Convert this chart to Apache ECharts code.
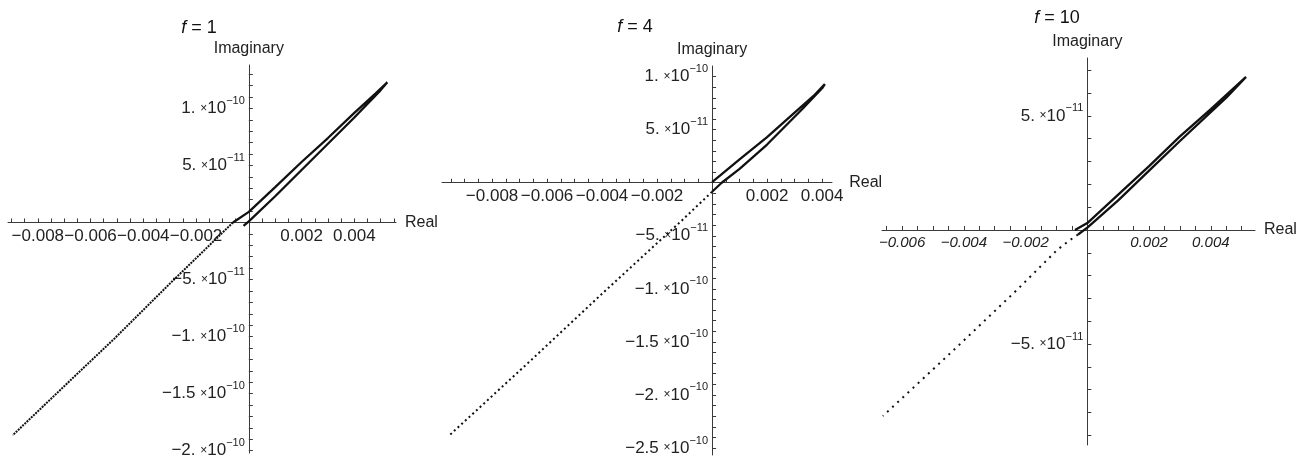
<!DOCTYPE html>
<html>
<head>
<meta charset="utf-8">
<script src="https://cdn.jsdelivr.net/npm/echarts@6/dist/echarts.min.js"></script>
<style>
html, body { margin: 0; padding: 0; background: #fff; }
#chart { width: 1314px; height: 459px; }
</style>
</head>
<body>
<div id="chart"></div>
<script>
// f = 1 : loop (solid) and tail going down-left (dotted)
var f1Loop = [[-0.0006, 0.0], [0.0, 0.93e-11], [0.001, 3.1e-11], [0.002, 5.3e-11], [0.003, 7.4e-11],
  [0.004, 9.6e-11], [0.0048, 1.13e-10], [0.00525, 1.228e-10], [0.0050, 1.16e-10], [0.004, 9.2e-11],
  [0.003, 6.9e-11], [0.002, 4.6e-11], [0.001, 2.3e-11], [0.0, 0.1e-11], [-0.0002, -0.3e-11]];
var f1Tail = [[-0.0006, 0.0], [-0.00289, -5.12e-11], [-0.00509, -1.016e-10], [-0.0063, -1.281e-10], [-0.00895, -1.864e-10]];

// f = 4
var f4Loop = [[0.0, 0.05e-11], [0.001, 2.2e-11], [0.002, 4.3e-11], [0.003, 6.6e-11], [0.0037, 8.2e-11],
  [0.0041, 9.3e-11], [0.0040, 8.9e-11], [0.0033, 7.0e-11], [0.002, 3.6e-11], [0.001, 1.3e-11],
  [0.00035, 0.0], [0.0, -0.85e-11]];
var f4Tail = [[0.0, -0.85e-11], [-0.00108, -3.51e-11], [-0.00395, -1.034e-10], [-0.00661, -1.679e-10], [-0.00959, -2.39e-10]];

// f = 10
var f10Loop = [[-0.0004, 0.0], [0.0, 0.3e-11], [0.001, 1.55e-11], [0.002, 2.8e-11], [0.003, 4.1e-11],
  [0.004, 5.3e-11], [0.00514, 6.71e-11], [0.0045, 5.8e-11], [0.003, 3.9e-11], [0.002, 2.6e-11],
  [0.001, 1.3e-11], [0.0, 0.1e-11], [-0.0003, -0.2e-11]];
var f10Tail = [[-0.0003, -0.2e-11], [-0.00056, -0.44e-11], [-0.00098, -0.88e-11], [-0.00228, -2.63e-11], [-0.00422, -5.13e-11], [-0.00662, -8.16e-11]];

// tick labels
var xLabels1 = [-0.008, -0.006, -0.004, -0.002, 0.002, 0.004];
var yLabels1 = [-2e-10, -1.5e-10, -1e-10, -5e-11, 5e-11, 1e-10];
var xLabels4 = [-0.008, -0.006, -0.004, -0.002, 0.002, 0.004];
var yLabels4 = [-2.5e-10, -2e-10, -1.5e-10, -1e-10, -5e-11, 5e-11, 1e-10];
var xLabels10 = [-0.006, -0.004, -0.002, 0.002, 0.004];
var yLabels10 = [-5e-11, 5e-11];

var FONT = '"Liberation Sans", Arial, sans-serif';
var AXIS = '#3a3a3a';

// panel boxes + axis ranges
var boxes = [
  { left: 8, top: 65, width: 388, height: 388, xMin: -0.00913, xMax: 0.00558, yMin: -2.02e-10, yMax: 1.38e-10 },
  { left: 442, top: 66, width: 390, height: 389, xMin: -0.00982, xMax: 0.00436, yMin: -2.566e-10, yMax: 1.1e-10 },
  { left: 882, top: 58, width: 373, height: 387, xMin: -0.00665, xMax: 0.00543, yMin: -9.43e-11, yMax: 7.54e-11 }
];

function steps(from, to, step) {
  var out = [];
  for (var k = Math.round(from / step); k <= Math.round(to / step); k++) out.push(k * step);
  return out;
}
function xFmt(v) {
  return (v < 0 ? '\u2212' : '') + Math.abs(v).toFixed(3);
}
function yFmt(v) {
  var e = Math.floor(Math.log10(Math.abs(v)) + 1e-9);
  var m = Math.round(v / Math.pow(10, e) * 10) / 10;
  var ms = (Math.abs(m) % 1 === 0 ? Math.abs(m) + '.' : String(Math.abs(m)));
  if (m < 0) ms = '\u2212' + ms;
  return '{m|' + ms + ' }{x|\u00d7}{m|10}{e|\u2212' + (-e) + '}';
}
// labels stay at the grid edge, so pull them to the zero line with the margin
function zeroX(b) { return b.left + (0 - b.xMin) / (b.xMax - b.xMin) * b.width; }
function zeroY(b) { return b.top + (b.yMax - 0) / (b.yMax - b.yMin) * b.height; }

function xAxisOf(idx, labels, ticks, italic, fs) {
  var b = boxes[idx];
  return {
    type: 'value', gridIndex: idx, min: b.xMin, max: b.xMax,
    name: 'Real', nameLocation: 'end', nameGap: 9,
    nameTextStyle: { fontFamily: FONT, fontSize: 16, color: '#222' },
    axisLine: { onZero: true, lineStyle: { color: AXIS, width: 1 } },
    axisTick: { inside: true, length: 4, customValues: ticks, lineStyle: { color: AXIS } },
    axisLabel: {
      customValues: labels, formatter: xFmt, hideOverlap: false,
      margin: zeroY(b) + 5 - (b.top + b.height),
      fontFamily: FONT, fontSize: fs, color: '#222', fontStyle: italic ? 'italic' : 'normal'
    },
    splitLine: { show: false }
  };
}
function yAxisOf(idx, labels, ticks) {
  var b = boxes[idx];
  return {
    type: 'value', gridIndex: idx, min: b.yMin, max: b.yMax,
    name: 'Imaginary', nameLocation: 'end', nameGap: 8,
    nameTextStyle: { fontFamily: FONT, fontSize: 16, color: '#222' },
    axisLine: { onZero: true, lineStyle: { color: AXIS, width: 1 } },
    axisTick: { inside: true, length: 4, customValues: ticks, lineStyle: { color: AXIS } },
    axisLabel: {
      customValues: labels, formatter: yFmt, hideOverlap: false,
      margin: b.left - zeroX(b) + 4,
      rich: {
        m: { fontFamily: FONT, fontSize: 17, color: '#222', lineHeight: 26 },
        x: { fontFamily: FONT, fontSize: 12, color: '#222', lineHeight: 26 },
        e: { fontFamily: FONT, fontSize: 11, color: '#222', verticalAlign: 'top', lineHeight: 14 }
      }
    },
    splitLine: { show: false }
  };
}
function loopSeries(idx, data) {
  return {
    type: 'line', xAxisIndex: idx, yAxisIndex: idx, data: data, showSymbol: false,
    lineStyle: { color: '#111', width: 2.3 }, silent: true
  };
}
function tailSeries(idx, data, dash) {
  return {
    type: 'line', xAxisIndex: idx, yAxisIndex: idx, data: data, showSymbol: false,
    lineStyle: { color: '#111', width: 2, type: dash }, silent: true
  };
}
function titleText(x, y, num) {
  return {
    type: 'text', x: x, y: y,
    style: {
      text: '{i|f} = ' + num, align: 'center', textAlign: 'center', verticalAlign: 'middle', textVerticalAlign: 'middle',
      font: '18px ' + FONT, fill: '#111',
      rich: { i: { fontFamily: FONT, fontSize: 18, fontStyle: 'italic', fill: '#111', color: '#111' } }
    }
  };
}

var chart = echarts.init(document.getElementById('chart'), null, { renderer: 'canvas' });
chart.setOption({
  animation: false,
  backgroundColor: '#fff',
  grid: boxes.map(function (b) {
    return { left: b.left, top: b.top, width: b.width, height: b.height, containLabel: false, outerBoundsMode: 'none' };
  }),
  xAxis: [
    xAxisOf(0, xLabels1, steps(-0.009, 0.0055, 0.0005), false, 17),
    xAxisOf(1, xLabels4, steps(-0.0095, 0.004, 0.0005), false, 17),
    xAxisOf(2, xLabels10, steps(-0.0065, 0.005, 0.0005), true, 15)
  ],
  yAxis: [
    yAxisOf(0, yLabels1, steps(-2e-10, 1.3e-10, 1e-11)),
    yAxisOf(1, yLabels4, steps(-2.5e-10, 1e-10, 1e-11)),
    yAxisOf(2, yLabels10, steps(-9e-11, 7e-11, 1e-11))
  ],
  series: [
    loopSeries(0, f1Loop), tailSeries(0, f1Tail, [2, 1]),
    loopSeries(1, f4Loop), tailSeries(1, f4Tail, [2, 3]),
    loopSeries(2, f10Loop), tailSeries(2, f10Tail, [2, 5])
  ],
  graphic: [titleText(199, 28, '1'), titleText(635, 27, '4'), titleText(1057, 18, '10')]
});
</script>
</body>
</html>
